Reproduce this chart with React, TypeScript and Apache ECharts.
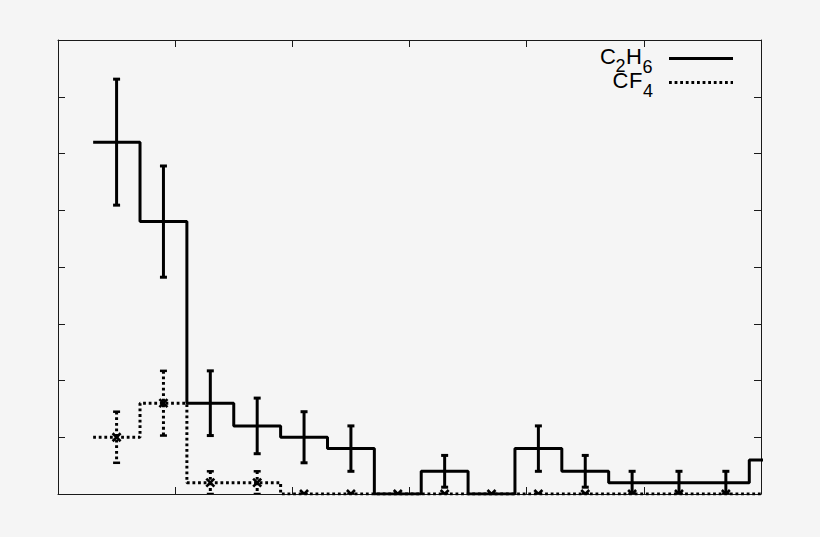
import React, { useEffect, useRef } from "react";
import * as echarts from "echarts";

// Bin centres (x units; the axis runs 0..6 with no labels)
const binCenters = [0.5, 0.9, 1.3, 1.7, 2.1, 2.5, 2.9, 3.3, 3.7, 4.1, 4.5, 4.9, 5.3, 5.7, 6.1];
const binWidth = 0.4;

// C2H6 histogram (solid) and its error bars
const c2h6Values = [6.2, 4.8, 1.6, 1.2, 1.0, 0.8, 0, 0.4, 0, 0.8, 0.4, 0.2, 0.2, 0.2, 0.6];
const c2h6Errors = [1.11, 0.98, 0.57, 0.49, 0.45, 0.4, 0, 0.28, 0, 0.4, 0.28, 0.2, 0.2, 0.2, 0.35];

// CF4 histogram (dotted) and its error bars
const cf4Values = [1.0, 1.6, 0.2, 0.2, 0, 0, 0, 0, 0, 0, 0, 0, 0, 0, 0];
const cf4Errors = [0.45, 0.57, 0.2, 0.2, 0, 0, 0, 0, 0, 0, 0, 0, 0, 0, 0];

const xMin = 0;
const xMax = 6;
const yMin = 0;
const yMax = 8;

const FRAME = "#1a1a1a";
const BG = "#f5f5f5";
const DOT = [2.8, 2.8];
const FONT = "'Liberation Sans', Arial, Helvetica, sans-serif";

function stepPoints(values: number[]) {
  const pts: number[][] = [];
  values.forEach((v, i) => {
    pts.push([binCenters[i] - binWidth / 2, v]);
    pts.push([binCenters[i] + binWidth / 2, v]);
  });
  return pts;
}

function errData(values: number[], errors: number[]) {
  return values.map((v, i) => [binCenters[i], v, errors[i]]);
}

function makeErrRender(dotted: boolean, marker: boolean) {
  return (params: any, api: any) => {
    const x = api.value(0);
    const y = api.value(1);
    const e = api.value(2);
    const c = api.coord([x, y]);
    const t = api.coord([x, y + e]);
    const b = api.coord([x, Math.max(0, y - e)]);
    const cap = 3.5;
    const st: any = { stroke: "#000", lineWidth: 3, lineCap: "butt" };
    if (dotted) st.lineDash = DOT;
    const children: any[] = [
      { type: "line", shape: { x1: c[0], y1: t[1], x2: c[0], y2: b[1] }, style: st },
      { type: "line", shape: { x1: c[0] - cap, y1: t[1], x2: c[0] + cap, y2: t[1] }, style: { ...st, lineDash: null, lineWidth: dotted ? 2.5 : 3 } },
      { type: "line", shape: { x1: c[0] - cap, y1: b[1], x2: c[0] + cap, y2: b[1] }, style: { ...st, lineDash: null, lineWidth: dotted ? 2.5 : 3 } },
    ];
    if (marker) {
      const m = 4;
      const ms = { stroke: "#000", lineWidth: 2.6 };
      children.push({ type: "line", shape: { x1: c[0] - m, y1: c[1] - m, x2: c[0] + m, y2: c[1] + m }, style: ms });
      children.push({ type: "line", shape: { x1: c[0] - m, y1: c[1] + m, x2: c[0] + m, y2: c[1] - m }, style: ms });
    }
    return { type: "group", children };
  };
}

function axisCommon() {
  return {
    axisLine: { show: true, onZero: false, lineStyle: { color: FRAME, width: 1 } },
    axisTick: { show: true, inside: true, length: 7, lineStyle: { color: FRAME, width: 1 } },
    axisLabel: { show: false },
    splitLine: { show: false },
  };
}

export default function App() {
  const ref = useRef<HTMLDivElement>(null);
  useEffect(() => {
    if (!ref.current) return;
    const chart = echarts.init(ref.current, undefined, { renderer: "svg" });
    const option: any = {
      animation: false,
      backgroundColor: BG,
      grid: { left: 58, right: 59, top: 40, bottom: 43, containLabel: false },
      xAxis: [
        { type: "value", position: "bottom", min: xMin, max: xMax, interval: 1, ...axisCommon() },
        { type: "value", position: "top", min: xMin, max: xMax, interval: 1, ...axisCommon() },
      ],
      yAxis: [
        { type: "value", position: "left", min: yMin, max: yMax, interval: 1, ...axisCommon() },
        { type: "value", position: "right", min: yMin, max: yMax, interval: 1, ...axisCommon() },
      ],
      series: [
        {
          name: "CF4",
          type: "line",
          data: stepPoints(cf4Values),
          showSymbol: false,
          symbol: "none",
          clip: true,
          lineStyle: { color: "#000", width: 3, type: DOT, cap: "butt" },
          z: 2,
        },
        {
          name: "C2H6",
          type: "line",
          data: stepPoints(c2h6Values),
          showSymbol: false,
          symbol: "none",
          clip: true,
          lineStyle: { color: "#000", width: 3, cap: "butt" },
          z: 3,
        },
        {
          name: "CF4 err",
          type: "custom",
          data: errData(cf4Values, cf4Errors),
          encode: { x: 0, y: 1 },
          clip: true,
          renderItem: makeErrRender(true, true),
          z: 4,
        },
        {
          name: "C2H6 err",
          type: "custom",
          data: errData(c2h6Values, c2h6Errors),
          encode: { x: 0, y: 1 },
          clip: true,
          renderItem: makeErrRender(false, false),
          z: 5,
        },
      ],
      graphic: [
        { type: "text", left: 600, top: 45, style: { text: "C", fontSize: 22, fontFamily: FONT, fill: "#000" } },
        { type: "text", left: 615.5, top: 57, style: { text: "2", fontSize: 18, fontFamily: FONT, fill: "#000" } },
        { type: "text", left: 626, top: 45, style: { text: "H", fontSize: 22, fontFamily: FONT, fill: "#000" } },
        { type: "text", left: 642.5, top: 58, style: { text: "6", fontSize: 18, fontFamily: FONT, fill: "#000" } },
        { type: "text", left: 612.5, top: 69, style: { text: "C", fontSize: 22, fontFamily: FONT, fill: "#000" } },
        { type: "text", left: 629, top: 69, style: { text: "F", fontSize: 22, fontFamily: FONT, fill: "#000" } },
        { type: "text", left: 643, top: 82, style: { text: "4", fontSize: 18, fontFamily: FONT, fill: "#000" } },
        { type: "line", shape: { x1: 669, y1: 58.5, x2: 733, y2: 58.5 }, style: { stroke: "#000", lineWidth: 3 } },
        { type: "line", shape: { x1: 669, y1: 82.5, x2: 733, y2: 82.5 }, style: { stroke: "#000", lineWidth: 3, lineDash: DOT } },
      ],
    };
    chart.setOption(option);
    return () => chart.dispose();
  }, []);
  return (
    <div
      ref={ref}
      style={{ position: "absolute", left: 0, top: 0, width: 820, height: 537, background: BG }}
    />
  );
}
